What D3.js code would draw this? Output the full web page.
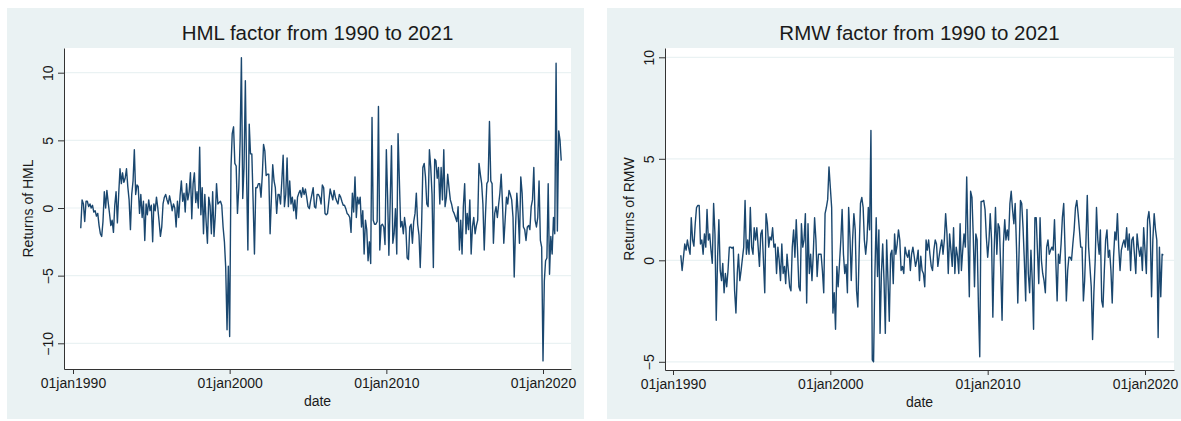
<!DOCTYPE html>
<html>
<head>
<meta charset="utf-8">
<script src="https://cdn.jsdelivr.net/npm/d3@7"></script>
<style>
  body { margin: 0; background: #fff; }
  svg { display: block; font-family: "Liberation Sans", Arial, sans-serif; }
</style>
</head>
<body>
<div class="container"></div>
<script>
// monthly factor returns (%), first observation Jul 1990
const firstMonth = new Date(1990, 6, 1);

const hmlReturns = [
    -1.5, 0.6, 0.3, -1.0, 0.5, 0.5,                                   // 1990 jul-dec
    0.1, 0.3, 0.0, 0.2, -0.3, -0.2, -0.6, -0.4, -1.3, -1.9, -2.1, -1.0, // 1991
    1.2, 0.0, 1.3, 0.4, -0.4, -1.3, -0.9, -1.8, 0.2, 1.2, -1.1, 1.0,    // 1992
    2.9, 1.8, 2.6, 1.9, 2.2, 2.9, 1.6, 0.6, -1.6, 1.0, 2.0, 4.3,        // 1993
    1.0, 1.7, 1.6, -0.4, 1.0, -0.7, 0.5, -2.4, 0.3, -0.5, 0.6, -0.2,    // 1994
    0.2, -2.5, 0.3, -0.2, 0.8, 0.0, -1.0, -2.1, -1.4, 0.3, 0.8, 1.0,    // 1995
    0.6, 0.3, 0.9, 0.4, -0.2, 0.3, 0.0, -1.4, 0.5, -0.7, 0.9, 2.0,      // 1996
    0.5, 1.1, -0.3, 1.8, 0.6, 1.2, 2.6, -0.8, 1.8, 2.6, 0.4, 1.2,       // 1997
    0.0, 4.5, -0.5, 1.5, -1.9, 1.0, -1.0, -2.6, 0.8, 0.2, -1.9, 1.2,    // 1998
    -2.1, -0.5, 1.8, 0.3, 0.4, 0.5, 0.2, -1.4, -2.5, -4.4, -9.0, -4.3,  // 1999
    -9.5, 3.0, 5.5, 6.0, 3.3, 3.1, -0.4, 1.5, 5.0, 11.1, 0.7, 3.0,      // 2000
    9.4, 2.0, -3.1, 6.2, 4.0, 4.0, 0.5, -3.4, 1.5, 1.5, 1.8, 1.8,       // 2001
    0.8, 2.5, 4.7, 4.2, 2.4, 2.5, 2.5, -1.9, 0.8, 3.2, 2.0, 1.5,        // 2002
    -0.4, 1.0, 1.0, 0.3, 2.0, 3.9, 0.1, 1.0, 3.7, 0.1, 2.0, 0.3,        // 2003
    0.8, -0.2, 0.6, -0.8, 0.8, 1.1, 1.3, 0.8, 1.5, 1.0, 1.4, 0.8,       // 2004
    0.1, -0.05, 0.5, 1.0, 1.5, 0.1, 0.0, 1.0, 1.0, 0.8, 0.3, 1.7,       // 2005
    1.5, -0.4, -0.5, -0.4, 0.5, 1.4, 1.0, 0.6, 1.3, 0.8, 0.5, 0.3,      // 2006
    1.0, 0.8, 0.5, 0.2, 0.2, -0.05, -0.4, -0.5, -0.7, -1.8, 1.1, -0.3,  // 2007
    2.3, -0.7, 0.8, 0.3, 0.8, -1.4, -0.2, -3.4, -0.9, -1.6, -3.9, -2.5, // 2008
    -4.1, 6.7, -0.9, -1.2, -1.2, -1.0, 7.5, -3.1, -1.3, -1.2, -1.4, -2.7, // 2009
    4.3, 0.6, -3.5, 0.5, 4.6, -2.6, -1.9, -0.05, -3.4, 5.5, 2.0, -1.4,  // 2010
    -1.0, -1.9, -0.7, -1.5, -3.7, -3.8, -1.4, -1.2, -2.6, -1.0, -0.4, 1.1, // 2011
    -1.2, -2.0, -4.4, -1.4, 3.0, 3.3, 2.3, 0.3, 0.1, 4.3, 3.0, 1.0,     // 2012
    -4.4, 3.6, 3.5, 2.2, 3.0, 0.3, 3.0, 0.6, 4.3, 0.1, 0.8, 2.5,        // 2013
    1.5, 0.6, 0.3, -0.2, -0.4, -0.7, -1.0, 0.1, -3.1, -0.9, -3.4, 0.1,  // 2014
    1.8, -1.9, -0.4, -1.6, 0.6, -3.4, -1.4, -0.7, -1.9, -1.3, -0.9, 3.3, // 2015
    2.5, 1.8, 0.3, -3.1, -0.4, 1.8, 2.0, 6.4, 2.0, 1.8, -2.6, -0.4,     // 2016
    0.1, -0.7, 0.2, 1.1, 2.5, 0.3, -2.6, -0.9, 0.8, 0.3, 1.3, 1.0,      // 2017
    0.6, -0.7, -5.1, -1.4, 1.1, -0.4, -2.6, 2.3, 1.1, -1.4, -1.6, -2.4, // 2018
    -1.4, -1.3, -1.6, 0.1, 0.6, 3.0, -0.9, -1.4, -0.7, 2.0, -2.4, -2.9, // 2019
    -11.3, -5.4, -3.9, -3.7, 1.8, -4.9, -2.1, -3.4, -0.7, -1.9, 10.7, -1.7, // 2020
    5.7, 5.0, 3.5                                                      // 2021 jan-mar
];

const rmwReturns = [
    0.25, -0.5, 0.15, 0.8, 0.5, 1.0,                                   // 1990 jul-dec
    0.6, 0.3, 2.1, 1.0, 0.7, 1.8, 2.6, 2.7, 2.7, 0.8, 1.0, 0.3,         // 1991
    1.3, 0.65, 2.5, 1.0, 1.3, 0.5, -0.15, 2.8, 1.3, -2.95, 0.15, 2.0,   // 1992
    -0.5, -1.0, -0.15, -1.6, -0.65, -1.3, -0.5, 0.65, 0.65, 0.6, 0.65, -1.5, // 1993
    -2.6, -0.65, 0.3, -1.0, -0.5, 0.1, 0.65, 2.95, 0.3, 1.0, 0.3, 2.6,  // 1994
    0.65, 0.3, 1.6, 1.0, 1.6, 0.65, -0.3, 1.3, 1.5, 0.0, -1.6, 2.3,     // 1995
    1.8, 0.65, 1.15, 1.0, 1.6, 0.65, 0.8, -0.65, 0.65, 0.0, -1.0, 0.8,  // 1996
    -0.65, -0.3, -1.15, 0.3, -0.5, -1.3, -1.5, 0.65, 1.5, 0.15, 2.0, 0.5, // 1997
    -1.3, -1.5, 1.8, 0.65, 1.0, 2.3, -2.1, 1.8, -0.65, 0.3, -1.0, 0.3,  // 1998
    2.1, 1.0, -0.8, 0.3, 0.3, 0.3, -0.5, -1.6, 2.3, 2.6, 3.0, 4.6,      // 1999
    3.6, 2.6, -2.6, -1.6, -3.4, -0.3, -1.3, -0.15, 1.0, 2.5, 0.3, -0.65, // 2000
    -0.2, -1.6, 2.6, 1.15, -1.0, 1.0, 2.3, 1.5, -1.5, -2.3, 0.5, 2.8,   // 2001
    3.1, 2.6, 1.0, 0.3, 1.0, 2.6, 1.5, 6.4, -4.9, -5.0, -0.65, 2.1,     // 2002
    -0.8, 1.5, -3.6, -0.65, 0.8, -1.0, -3.6, 1.0, -1.0, -3.0, 0.3, 0.5, // 2003
    -1.15, 1.3, 0.3, 0.8, 1.5, 1.0, -0.5, -0.3, -0.65, 0.65, 0.3, 0.15, // 2004
    0.5, -0.5, 0.3, 0.65, 0.2, -0.3, 0.0, 0.5, -1.0, 0.2, -0.5, -0.65,  // 2005
    -1.3, 1.0, 0.5, 1.0, 0.3, -0.3, -0.5, 0.5, 1.0, 0.8, -0.3, 0.2,     // 2006
    0.65, 1.0, 0.3, 1.0, 2.3, 1.3, -0.65, 1.3, 0.5, -0.3, 1.6, -0.65,   // 2007
    0.65, 0.2, -0.65, 1.8, -0.5, 0.5, 1.3, 0.65, 4.1, 1.0, -1.8, 3.4,   // 2008
    3.1, 1.15, -1.3, 1.3, 1.0, -2.3, -4.75, 2.9, 2.9, 2.95, 2.5, 1.15,  // 2009
    0.15, 1.0, 2.3, 1.0, -2.8, 0.5, 2.6, 0.3, 1.8, 1.6, -0.5, -2.95,    // 2010
    0.8, 2.0, 1.0, 1.5, 1.0, 2.8, 3.4, 2.5, 1.8, 2.8, 0.65, -2.1,       // 2011
    0.5, 2.95, 2.8, 1.6, 0.0, -2.0, 2.5, -0.65, -1.6, 0.5, -1.0, -3.4,  // 2012
    2.1, 2.1, 0.5, -1.15, 2.1, 0.0, -0.65, -1.0, -1.6, 0.65, 1.0, 0.3,  // 2013
    0.5, 0.65, 0.5, 2.0, 0.0, -2.0, 0.3, -0.15, 0.8, 2.1, 2.8, 0.65,    // 2014
    -2.0, -0.5, 0.15, 0.15, 0.0, 0.8, 1.5, 2.6, 2.95, 2.3, 1.5, 0.65,   // 2015
    0.65, -2.0, -1.0, 1.0, 3.2, 0.65, -0.3, -1.3, -3.9, -1.6, 0.0, 2.6, // 2016
    1.0, 0.3, 1.5, -2.0, -2.3, -0.5, 1.0, 1.5, 0.15, 0.5, -0.5, -2.1,   // 2017
    0.15, 1.4, 1.0, 2.3, 0.65, -0.5, 0.5, 0.8, 1.0, 0.65, 1.6, 0.5,     // 2018
    1.3, -0.5, 1.0, 1.15, 0.3, -0.65, 1.3, 0.65, 0.2, 0.65, -0.5, 1.6,  // 2019
    0.5, -0.65, 2.0, 2.4, 1.6, -1.8, 1.0, 2.3, 1.5, 1.0, -3.8, 0.65,    // 2020
    -1.8, 0.3, 0.25                                                    // 2021 jan-mar
];

const xTickDates = [new Date(1990, 0, 1), new Date(2000, 0, 1), new Date(2010, 0, 1), new Date(2020, 0, 1)];
const xTickLabels = ['01jan1990', '01jan2000', '01jan2010', '01jan2020'];
const hmlTicks = [-10, -5, 0, 5, 10];
const rmwTicks = [-5, 0, 5, 10];

// layout of the two graph windows (pixel anchors for 1990/2020 and 0/10)
const panels = [
    {
        title: 'HML factor from 1990 to 2021', yTitle: 'Returns of HML',
        values: hmlReturns, yTicks: hmlTicks,
        bg: { x: 7, y: 8, w: 577, h: 411 },
        plot: { left: 64, right: 571, top: 48, bottom: 369 },
        xAt: [73, 543], yAt: [208, 72.7]
    },
    {
        title: 'RMW factor from 1990 to 2021', yTitle: 'Returns of RMW',
        values: rmwReturns, yTicks: rmwTicks,
        bg: { x: 607, y: 8, w: 574, h: 411 },
        plot: { left: 665, right: 1174, top: 48, bottom: 370 },
        xAt: [673, 1145], yAt: [260.3, 57.3]
    }
];

const bgColor = '#eaf2f3',
    lineColor = '#1a476f',
    textColor = '#1a1a1a',
    fontFamily = '"Liberation Sans", Arial, sans-serif';

const svg = d3.select('div.container')
    .append('svg')
    .attr('width', 1181)
    .attr('height', 421);

panels.forEach(p => {
    const months = d3.timeMonth.range(firstMonth, d3.timeMonth.offset(firstMonth, p.values.length));

    const xScale = d3.scaleTime()
        .domain([xTickDates[0], xTickDates[3]])
        .range(p.xAt);
    xScale.domain([xScale.invert(p.plot.left), xScale.invert(p.plot.right)])
        .range([p.plot.left, p.plot.right]);

    const yScale = d3.scaleLinear()
        .domain([0, 10])
        .range(p.yAt);
    yScale.domain([yScale.invert(p.plot.bottom), yScale.invert(p.plot.top)])
        .range([p.plot.bottom, p.plot.top]);

    const g = svg.append('g');

    g.append('rect')
        .attr('x', p.bg.x).attr('y', p.bg.y)
        .attr('width', p.bg.w).attr('height', p.bg.h)
        .attr('fill', bgColor);

    g.append('rect')
        .attr('x', p.plot.left).attr('y', p.plot.top)
        .attr('width', p.plot.right - p.plot.left)
        .attr('height', p.plot.bottom - p.plot.top)
        .attr('fill', '#fff');

    // horizontal grid
    g.selectAll('line.grid')
        .data(p.yTicks)
        .enter()
        .append('line')
        .attr('class', 'grid')
        .attr('x1', p.plot.left).attr('x2', p.plot.right)
        .attr('y1', d => yScale(d)).attr('y2', d => yScale(d))
        .attr('stroke', bgColor)
        .attr('stroke-width', 1.2);

    g.append('text')
        .text(p.title)
        .attr('x', (p.plot.left + p.plot.right) / 2)
        .attr('y', 40)
        .attr('text-anchor', 'middle')
        .attr('font-size', 20.5)
        .attr('fill', textColor);

    const line = d3.line()
        .x((d, i) => xScale(months[i]))
        .y(d => yScale(d));

    g.append('path')
        .datum(p.values)
        .attr('d', line)
        .attr('fill', 'none')
        .attr('stroke', lineColor)
        .attr('stroke-width', 1.4)
        .attr('stroke-linejoin', 'round');

    const xAxis = d3.axisBottom(xScale)
        .tickValues(xTickDates)
        .tickFormat((d, i) => xTickLabels[i])
        .tickSize(5)
        .tickSizeOuter(0)
        .tickPadding(4);

    const xg = g.append('g')
        .attr('transform', 'translate(0,' + p.plot.bottom + ')')
        .call(xAxis);
    xg.selectAll('text').attr('font-size', 14).attr('fill', textColor)
        .attr('font-family', fontFamily);
    xg.selectAll('line, path').attr('stroke', '#333');

    g.append('text')
        .text('date')
        .attr('x', (p.plot.left + p.plot.right) / 2)
        .attr('y', p.plot.bottom + 37)
        .attr('text-anchor', 'middle')
        .attr('font-size', 14)
        .attr('fill', textColor);

    const yAxis = d3.axisLeft(yScale)
        .tickValues(p.yTicks)
        .tickFormat(d3.format('d'))
        .tickSize(6)
        .tickSizeOuter(0);

    const yg = g.append('g')
        .attr('transform', 'translate(' + p.plot.left + ',0)')
        .call(yAxis);
    yg.selectAll('line, path').attr('stroke', '#333');
    yg.selectAll('text')
        .attr('font-size', 14)
        .attr('font-family', fontFamily)
        .attr('fill', textColor)
        .attr('text-anchor', 'middle')
        .attr('x', 0)
        .attr('dy', 0)
        .attr('y', -11)
        .attr('transform', 'rotate(-90)');

    g.append('text')
        .text(p.yTitle)
        .attr('transform', 'translate(' + (p.plot.left - 31) + ',' + ((p.plot.top + p.plot.bottom) / 2) + ') rotate(-90)')
        .attr('text-anchor', 'middle')
        .attr('font-size', 14)
        .attr('fill', textColor);
});
</script>
</body>
</html>
